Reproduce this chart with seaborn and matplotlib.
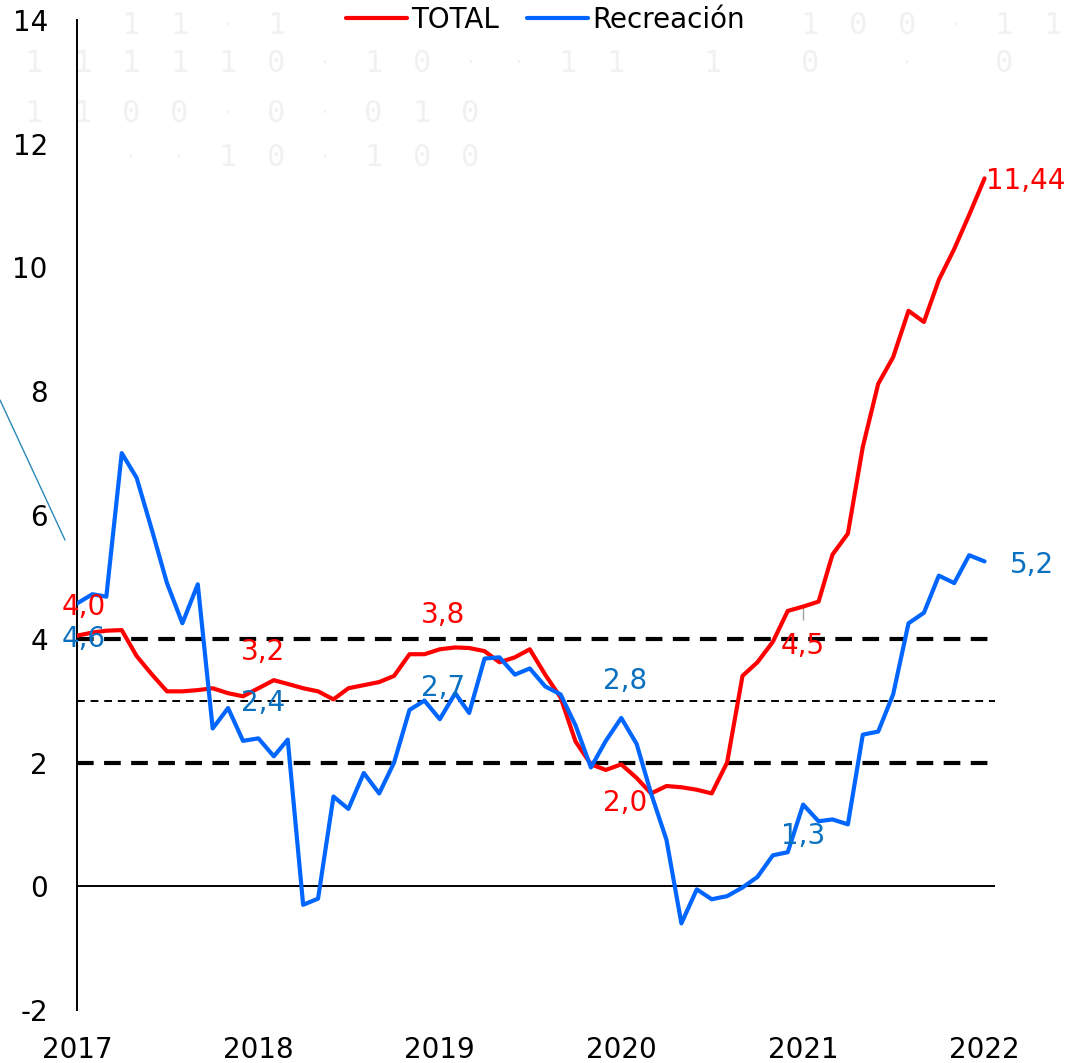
import numpy as np
import pandas as pd
import matplotlib
matplotlib.use('Agg')
import matplotlib.pyplot as plt
import seaborn as sns
from matplotlib.lines import Line2D

# Datos mensuales (ene 2017 - ene 2022), variación anual en %
fechas = pd.date_range('2017-01-01', periods=61, freq='MS')

total = [4.05, 4.10, 4.13, 4.14, 3.72, 3.42, 3.15, 3.15, 3.17, 3.20, 3.12, 3.07,
         3.20, 3.33, 3.27, 3.20, 3.15, 3.02, 3.20, 3.25, 3.30, 3.40, 3.75, 3.75,
         3.83, 3.86, 3.85, 3.80, 3.62, 3.70, 3.83, 3.42, 3.05, 2.34, 1.97, 1.88,
         1.97, 1.75, 1.50, 1.62, 1.60, 1.56, 1.50, 2.00, 3.40, 3.62, 3.95, 4.45,
         4.52, 4.60, 5.36, 5.70, 7.10, 8.12, 8.55, 9.30, 9.12, 9.80, 10.30, 10.85,
         11.44]

recreacion = [4.57, 4.72, 4.68, 7.00, 6.60, 5.75, 4.90, 4.25, 4.88, 2.55, 2.88, 2.35,
              2.39, 2.10, 2.37, -0.30, -0.20, 1.45, 1.25, 1.83, 1.50, 2.00, 2.85, 3.00,
              2.70, 3.12, 2.80, 3.68, 3.70, 3.42, 3.52, 3.23, 3.10, 2.60, 1.92, 2.35,
              2.72, 2.30, 1.50, 0.75, -0.60, -0.05, -0.21, -0.16, -0.02, 0.15, 0.50, 0.55,
              1.32, 1.05, 1.08, 1.00, 2.45, 2.50, 3.10, 4.25, 4.42, 5.02, 4.90, 5.35,
              5.25]

series = ['TOTAL', 'Recreación']
colores = {'TOTAL': '#ff0000', 'Recreación': '#0066ff'}
color_etiqueta = {'TOTAL': '#ff0000', 'Recreación': '#0a70c0'}

# Etiquetas de valores
etiquetas = ['4,0', '4,6', '3,2', '2,4', '3,8', '2,7', '2,8', '2,0', '4,5', '1,3', '11,44', '5,2']
etiq_serie = ['TOTAL', 'Recreación', 'TOTAL', 'Recreación', 'TOTAL', 'Recreación',
              'Recreación', 'TOTAL', 'TOTAL', 'Recreación', 'TOTAL', 'Recreación']
etiq_fecha = ['2017-01-15', '2017-01-15', '2018-01-10', '2018-01-10', '2019-01-08', '2019-01-08',
              '2020-01-08', '2020-01-08', '2021-01-01', '2021-01-01', '2022-01-03', '2022-02-20']
etiq_y = [4.52, 4.00, 3.78, 2.96, 4.39, 3.21, 3.31, 1.34, 3.88, 0.81, 11.39, 5.20]
etiq_ha = ['center'] * 10 + ['left', 'left']

años = [2017, 2018, 2019, 2020, 2021, 2022]

# Marca de agua de fondo (dígitos binarios)
fondo = ['  11·1          100·11',
         '111110·10··11 1 0 · 0',
         '1100·0·010',
         '  ··10·100']
fondo_y = [25, 63, 113, 157]

df = pd.DataFrame({
    'fecha': list(fechas) * 2,
    'valor': total + recreacion,
    'serie': ['TOTAL'] * len(total) + ['Recreación'] * len(recreacion),
})

sns.set_style('white')
plt.rcParams['font.family'] = ['DejaVu Sans']
plt.rcParams['axes.unicode_minus'] = False

fig = plt.figure(figsize=(10.73, 10.63), dpi=100)
ax = fig.add_axes([77 / 1073, 1 - 1010 / 1063, (995 - 77) / 1073, (1010 - 20) / 1063])
ax.patch.set_alpha(0)

# dígitos de fondo
for fila, yy in zip(fondo, fondo_y):
    for k, ch in enumerate(fila):
        if ch == ' ':
            continue
        fig.text((34 + 48.5 * k) / 1073, 1 - yy / 1063, ch, fontsize=22 if ch != '·' else 12,
                 family='DejaVu Sans Mono', color='#f1f1f1', ha='center', va='center', zorder=-5)

fig.add_artist(Line2D([0, 65 / 1073], [1 - 400 / 1063, 1 - 540 / 1063], color='#2a88b8', lw=1))

# líneas de referencia
ax.axhline(4, color='black', lw=3, ls=(0, (4, 2.5)), zorder=1)
ax.axhline(2, color='black', lw=3, ls=(0, (4, 2.5)), zorder=1)
ax.axhline(3, color='black', lw=1.4, ls=(0, (4, 3)), zorder=1)
ax.axhline(0, color='black', lw=1.4, zorder=1)

sns.lineplot(data=df, x='fecha', y='valor', hue='serie', hue_order=series,
             palette=colores, linewidth=3, ax=ax, zorder=3,
             solid_joinstyle='round', solid_capstyle='round')

ax.vlines(pd.Timestamp('2021-01-01'), 4.3, 4.55, color='#a0a0a0', lw=1, zorder=2)

for txt, s, f, yv, ha in zip(etiquetas, etiq_serie, etiq_fecha, etiq_y, etiq_ha):
    ax.text(pd.Timestamp(f), yv, txt, color=color_etiqueta[s], fontsize=20,
            ha=ha, va='center', zorder=4)

ax.set_xlim(pd.Timestamp('2017-01-01'), pd.Timestamp('2022-01-22'))
ax.set_ylim(-2, 14)
ax.set_yticks(range(-2, 15, 2))
ax.set_yticklabels([str(v) for v in range(-2, 15, 2)])
ax.set_xticks([pd.Timestamp(f'{a}-01-01') for a in años])
ax.set_xticklabels([str(a) for a in años])
ax.tick_params(axis='y', length=0, pad=21, labelsize=20, labelcolor='black')
ax.tick_params(axis='x', length=0, pad=19, labelsize=20, labelcolor='black')
ax.set_xlabel('')
ax.set_ylabel('')

sns.despine(ax=ax, top=True, right=True, bottom=True)
ax.spines['left'].set_color('black')
ax.spines['left'].set_linewidth(1.4)

sns.move_legend(ax, 'upper center', bbox_to_anchor=(0.508, 1.018), bbox_transform=fig.transFigure,
                ncol=2, frameon=False, title=None, fontsize=20, handlelength=2.2,
                handletextpad=0.15, columnspacing=1.0)
for t in ax.get_legend().get_texts():
    t.set_color('black')

plt.savefig('out.png', dpi=100)
